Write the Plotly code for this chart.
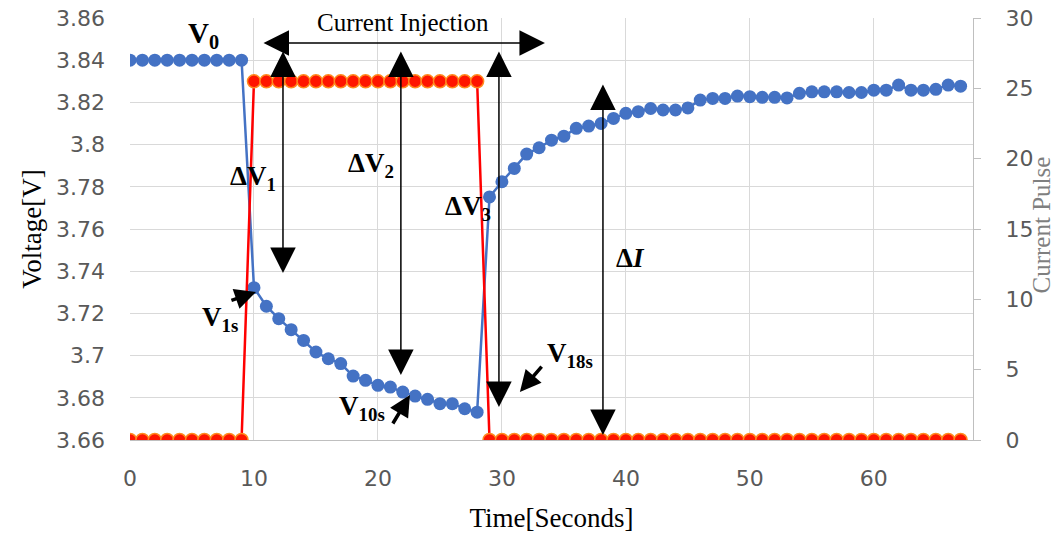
import plotly.graph_objects as go

# ---- data ----
time_s = list(range(0, 68))
voltage = [3.84] * 10 + [
    3.7322, 3.7234, 3.7175, 3.7123, 3.7072, 3.7017, 3.6985, 3.6962, 3.6903, 3.6883,
    3.6859, 3.6851, 3.6827, 3.6808, 3.6793, 3.6772, 3.6772, 3.6748, 3.6732,
    3.7752, 3.7824, 3.7887, 3.7955, 3.7985, 3.8021, 3.8040, 3.8077, 3.8088, 3.8100,
    3.8124, 3.8148, 3.8156, 3.8171, 3.8164, 3.8164, 3.8174, 3.8211, 3.8219, 3.8219,
    3.8230, 3.8227, 3.8224, 3.8224, 3.8221, 3.8243, 3.8250, 3.8250, 3.8250, 3.8247,
    3.8247, 3.8258, 3.8258, 3.8282, 3.8258, 3.8258, 3.8262, 3.8282, 3.8277,
]
current = [0] * 10 + [25.5] * 19 + [0] * 39

y_ticks = [3.66, 3.68, 3.70, 3.72, 3.74, 3.76, 3.78, 3.80, 3.82, 3.84, 3.86]
y_ticktext = ["3.66", "3.68", "3.7", "3.72", "3.74", "3.76", "3.78", "3.8", "3.82", "3.84", "3.86"]
x_ticks = [0, 10, 20, 30, 40, 50, 60]
y2_ticks = [0, 5, 10, 15, 20, 25, 30]

BLUE = "#4472C4"
RED = "#FF0000"
GRID = "#d9d9d9"
TICKC = "#595959"
SERIF = "Liberation Serif, Times New Roman, serif"
SANS = "DejaVu Sans, Arial, sans-serif"

fig = go.Figure()
fig.add_trace(go.Scatter(
    x=time_s, y=voltage, mode="lines+markers", name="Voltage",
    line=dict(color=BLUE, width=2.5),
    marker=dict(color=BLUE, size=13, line=dict(width=0)),
    yaxis="y", showlegend=False,
))
fig.add_trace(go.Scatter(
    x=time_s, y=current, mode="lines+markers", name="Current",
    line=dict(color=RED, width=2.5),
    marker=dict(color="#FF1500", size=13, line=dict(color="#FF8A1E", width=1.5)),
    yaxis="y2", showlegend=False,
))

ann = []

def dbl_arrow(x0, y0, x1, y1):
    ann.append(dict(x=x1, y=y1, ax=x0, ay=y0, xref="x", yref="y", axref="x", ayref="y",
                    text="", showarrow=True, arrowhead=2, arrowside="end+start",
                    arrowsize=3.4, arrowwidth=1.5, arrowcolor="black", standoff=0, startstandoff=0))

def short_arrow(x0, y0, x1, y1):
    ann.append(dict(x=x1, y=y1, ax=x0, ay=y0, xref="x", yref="y", axref="x", ayref="y",
                    text="", showarrow=True, arrowhead=2, arrowsize=1.2, arrowwidth=3.5,
                    arrowcolor="black", standoff=0))

def label(x, y, txt, size=27, bold=True):
    ann.append(dict(x=x, y=y, xref="x", yref="y", text=("<b>%s</b>" % txt) if bold else txt,
                    showarrow=False, font=dict(family=SERIF, size=size, color="black"),
                    xanchor="center", yanchor="middle"))

# double arrows
dbl_arrow(10.65, 3.8482, 33.47, 3.8482)
dbl_arrow(12.34, 3.8448, 12.34, 3.7391)
dbl_arrow(21.85, 3.8448, 21.85, 3.6908)
dbl_arrow(29.76, 3.8448, 29.76, 3.6756)
dbl_arrow(38.15, 3.8292, 38.15, 3.6624)

# pointer arrows
short_arrow(8.06, 3.7259, 10.16, 3.7301)
short_arrow(21.13, 3.6671, 22.58, 3.6813)
short_arrow(33.31, 3.6955, 31.45, 3.6828)

# labels
label(5.89, 3.8519, "V<sub>0</sub>", size=29)
label(22.0, 3.8580, "Current Injection", size=25, bold=False)
label(9.92, 3.7842, "ΔV<sub>1</sub>")
label(19.44, 3.7903, "ΔV<sub>2</sub>")
label(27.26, 3.7700, "ΔV<sub>3</sub>")
label(40.4, 3.7463, "Δ<i>I</i>")
label(7.26, 3.7172, "V<sub>1s</sub>")
label(18.71, 3.6750, "V<sub>10s</sub>")
label(35.48, 3.7003, "V<sub>18s</sub>")

# right axis title (placed as an annotation so it stays inside the page)
ann.append(dict(x=1.0815, y=0.51, xref="paper", yref="paper", text="Current Pulse",
                textangle=-90, showarrow=False, xanchor="center", yanchor="middle",
                font=dict(family=SERIF, size=25, color="#7f7f7f")))

fig.update_layout(
    width=1055, height=525,
    margin=dict(l=122, r=90, t=10, b=93),
    paper_bgcolor="white", plot_bgcolor="white",
    annotations=ann,
    xaxis=dict(
        range=[0, 68], tickvals=x_ticks, showgrid=True, gridcolor=GRID, gridwidth=1.3,
        zeroline=False, showline=True, linecolor="#bfbfbf", linewidth=1.3, automargin=False,
        ticks="", tickfont=dict(family=SANS, size=22, color=TICKC), ticklabelstandoff=18,
        title=dict(text="Time[Seconds]", font=dict(family=SERIF, size=27, color="black"), standoff=24),
    ),
    yaxis=dict(
        range=[3.66, 3.86], tickvals=y_ticks, ticktext=y_ticktext, showgrid=True, automargin=False,
        gridcolor=GRID, gridwidth=1.3, zeroline=False, showline=False, ticks="",
        tickfont=dict(family=SANS, size=22, color=TICKC), ticklabelstandoff=24,
        ticklabeloverflow="allow",
        title=dict(text="Voltage[V]", font=dict(family=SERIF, size=27, color="black"), standoff=6),
    ),
    yaxis2=dict(
        range=[0, 30], tickvals=y2_ticks, overlaying="y", side="right", showgrid=False,
        zeroline=False, showline=True, linecolor="#bfbfbf", linewidth=1.3, automargin=False,
        ticks="outside", ticklen=7, tickcolor="#bfbfbf",
        tickfont=dict(family=SANS, size=22, color=TICKC), ticklabelstandoff=20,
        ticklabeloverflow="allow",
    ),
)

fig.write_html("out.html")
